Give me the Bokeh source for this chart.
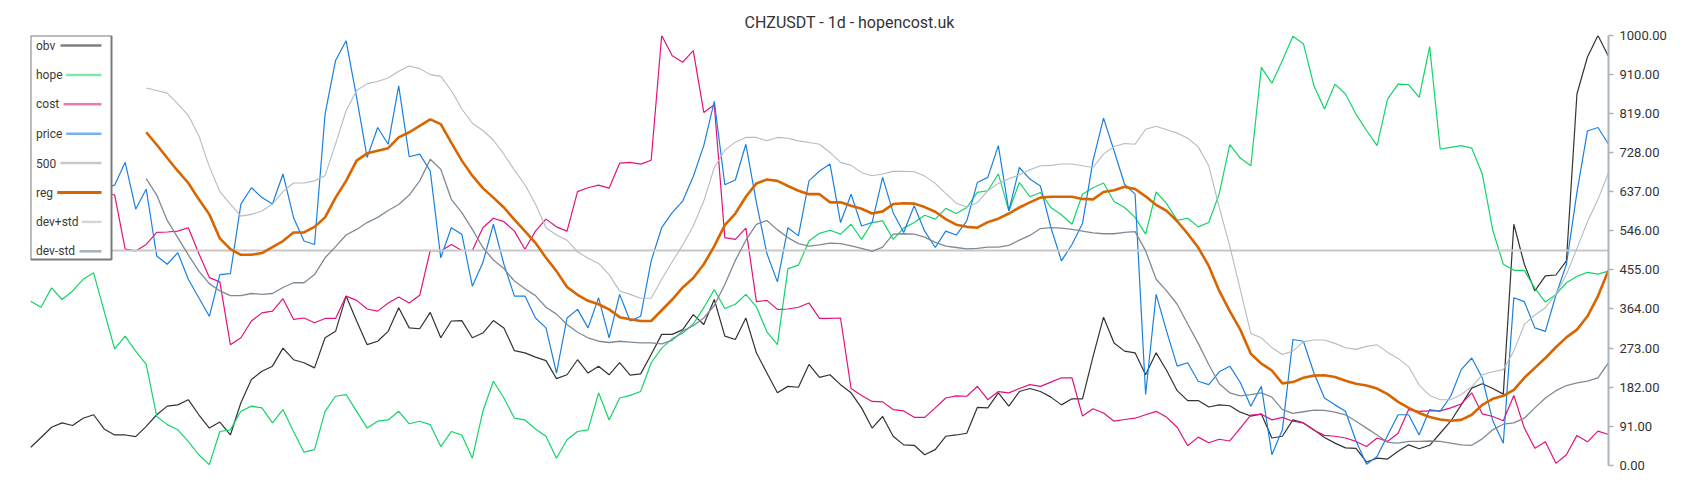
from bokeh.plotting import figure
from bokeh.models import (LinearAxis, FixedTicker, PrintfTickFormatter, Range1d,
                          BoxAnnotation, ColumnDataSource)
from bokeh.core.properties import value
from bokeh.embed import file_html
from bokeh.resources import INLINE

nan = float("nan")

# ---------------- data ----------------
title_text = "CHZUSDT - 1d - hopencost.uk"
ytick_vals = [0, 91, 182, 273, 364, 455, 546, 637, 728, 819, 910, 1000]
level_500 = 500

obv = [42, 65, 89, 99, 93, 110, 118, 85, 71, 71, 67, 91, 118, 138, 141, 153, 118, 87, 101, 71, 146, 200, 219, 231, 273, 246,
       239, 227, 297, 312, 394, 336, 281, 289, 312, 367, 320, 318, 356, 297, 336, 337, 297, 308, 337, 320, 267, 262, 252, 244, 202,
       211, 246, 215, 231, 211, 239, 210, 213, 258, 305, 305, 316, 351, 328, 386, 301, 293, 343, 262, 215, 169, 184, 182, 235, 205,
       211, 188, 169, 134, 87, 114, 68, 48, 47, 25, 37, 68, 71, 75, 135, 134, 169, 138, 172, 179, 172, 159, 141, 155, 155,
       253, 345, 285, 266, 262, 211, 262, 221, 174, 151, 151, 136, 141, 139, 124, 115, 120, 64, 68, 106, 99, 83, 65, 52, 41,
       40, 8, 17, 15, 33, 48, 39, 47, 75, 103, 141, 180, 190, 179, 166, 561, 468, 406, 441, 443, 476, 864, 950, 1000, 951]

hope = [382, 368, 413, 386, 406, 433, 448, 359, 271, 301, 266, 235, 114, 95, 83, 56, 25, 2, 79, 83, 126, 138, 134, 99, 130, 79,
        31, 37, 126, 161, 165, 126, 87, 103, 106, 126, 97, 103, 95, 44, 79, 71, 17, 126, 196, 157, 110, 106, 85, 68, 17,
        60, 79, 83, 169, 106, 157, 163, 172, 239, 273, 295, 308, 329, 367, 409, 365, 375, 398, 369, 311, 281, 458, 466, 522, 540,
        547, 538, 561, 526, 565, 569, 526, 552, 565, 582, 573, 598, 586, 600, 635, 639, 678, 592, 658, 625, 635, 600, 583, 561, 631,
        646, 657, 614, 600, 577, 538, 636, 609, 570, 575, 555, 565, 632, 746, 715, 697, 926, 889, 942, 998, 981, 883, 829, 887, 864,
        817, 779, 744, 852, 887, 886, 856, 974, 736, 740, 744, 738, 678, 547, 468, 454, 454, 412, 380, 398, 425, 440, 449, 445, 452]

cost = [600, 610, 620, 630, 625, 630, 640, 635, 629, 503, 499, 514, 542, 543, 545, 553, 493, 437, 427, 281, 297, 336, 355, 359, 388, 340,
        343, 332, 342, 342, 394, 384, 364, 359, 378, 392, 378, 396, 500, 499, 514, 500, 500, 553, 575, 567, 545, 503, 545, 573, 555,
        545, 637, 646, 652, 645, 703, 705, 701, 710, 1000, 953, 938, 965, 821, 839, 530, 526, 552, 381, 384, 363, 364, 368, 378, 342,
        342, 343, 179, 163, 149, 148, 130, 127, 112, 112, 134, 157, 162, 161, 184, 153, 172, 169, 179, 188, 184, 194, 204, 204, 115,
        132, 122, 103, 107, 110, 118, 126, 112, 89, 46, 66, 53, 61, 57, 87, 117, 119, 106, 112, 103, 99, 82, 70, 68, 64,
        56, 44, 64, 56, 75, 130, 126, 127, 127, 134, 143, 169, 120, 114, 104, 163, 87, 40, 55, 5, 25, 70, 55, 80, 72]

price = [730, 700, 690, 650, 660, 640, 655, 645, 652, 705, 596, 643, 487, 468, 495, 433, 390, 347, 444, 446, 608, 646, 623, 608, 678, 577,
         522, 514, 817, 942, 988, 856, 716, 786, 747, 883, 718, 724, 685, 483, 553, 538, 417, 472, 561, 468, 394, 394, 343, 320, 215,
         343, 363, 320, 390, 297, 398, 336, 347, 476, 553, 588, 615, 672, 744, 847, 653, 664, 747, 612, 493, 427, 553, 534, 662, 685,
         701, 565, 631, 557, 565, 670, 588, 542, 604, 545, 507, 545, 536, 569, 658, 670, 744, 592, 693, 666, 650, 553, 476, 514, 563,
         709, 808, 732, 654, 631, 165, 398, 312, 231, 239, 196, 188, 218, 231, 193, 138, 184, 25, 83, 293, 289, 215, 157, 141, 126,
         57, 3, 21, 70, 118, 118, 71, 130, 126, 161, 223, 250, 204, 104, 52, 390, 381, 320, 312, 396, 468, 635, 778, 786, 747]

reg = [nan] * 11 + [775, 746, 715, 685, 657, 619, 584, 528, 503, 490, 490, 494, 508, 522, 542,
       542, 555, 577, 623, 662, 709, 726, 732, 738, 763, 775, 790, 805, 794, 751, 709, 674, 645, 623, 600, 572, 545, 518, 483, 452,
       415, 397, 383, 375, 363, 345, 340, 336, 336, 361, 386, 414, 436, 468, 510, 559, 586, 625, 656, 665, 662, 650, 639, 631, 631,
       612, 612, 604, 597, 586, 591, 608, 610, 609, 601, 590, 573, 560, 555, 553, 566, 574, 586, 600, 612, 623, 625, 625, 625, 620,
       619, 636, 640, 648, 643, 626, 606, 592, 568, 539, 507, 464, 406, 359, 316, 260, 237, 221, 191, 194, 204, 209, 210, 206, 197,
       190, 186, 179, 166, 148, 134, 122, 113, 107, 104, 106, 118, 141, 155, 162, 176, 204, 227, 250, 275, 298, 316, 347, 394, 454]

dev_plus = [nan] * 11 + [878, 872, 866, 841, 814, 767, 695, 637, 608, 580, 584, 592, 608, 637, 657,
            657, 662, 674, 748, 825, 872, 888, 893, 901, 917, 929, 923, 909, 905, 872, 829, 796, 779, 757, 724, 687, 653, 608, 553, 536,
            524, 497, 482, 470, 444, 406, 398, 389, 389, 433, 474, 513, 557, 615, 693, 733, 752, 763, 763, 755, 763, 761, 755, 751, 747,
            728, 705, 698, 681, 674, 678, 684, 684, 683, 673, 656, 633, 610, 601, 611, 639, 656, 667, 676, 688, 697, 698, 701, 701, 697,
            693, 724, 742, 749, 747, 782, 789, 781, 773, 761, 741, 697, 600, 510, 409, 307, 297, 274, 258, 266, 288, 292, 292, 284, 274,
            270, 277, 281, 263, 249, 230, 187, 163, 153, 153, 165, 183, 211, 218, 223, 266, 328, 350, 367, 398, 444, 505, 567, 619, 681]

dev_minus = [nan] * 11 + [667, 629, 570, 530, 490, 452, 423, 406, 395, 395, 400, 398, 400, 414, 425,
             425, 444, 483, 509, 536, 549, 565, 577, 593, 607, 629, 662, 712, 689, 619, 588, 549, 507, 478, 458, 429, 411, 395, 368, 352,
             328, 310, 297, 289, 286, 289, 287, 285, 285, 283, 291, 313, 325, 343, 372, 421, 477, 524, 561, 570, 548, 530, 516, 510, 513,
             517, 516, 511, 505, 498, 508, 538, 539, 538, 531, 519, 510, 507, 504, 505, 508, 508, 512, 524, 535, 551, 553, 552, 549, 545,
             541, 539, 539, 542, 544, 499, 433, 406, 375, 329, 284, 235, 190, 169, 162, 165, 169, 159, 130, 121, 125, 129, 128, 124, 118,
             103, 87, 71, 54, 52, 56, 56, 57, 56, 52, 48, 47, 62, 83, 96, 99, 110, 134, 157, 174, 186, 192, 196, 204, 239]

N = len(obv)
xs = list(range(N))
line_500 = [level_500] * N

legend_names = ["obv", "hope", "cost", "price", "500", "reg", "dev+std", "dev-std"]

# ---------------- styles ----------------
series = [
    (obv, "#333333", 1.2),
    (hope, "#14d468", 1.2),
    (cost, "#e2127c", 1.2),
    (price, "#1a80e0", 1.2),
    (line_500, "#c8c8c8", 2.0),
    (reg, "#d96500", 2.6),
    (dev_plus, "#b3bcc4", 1.1),
    (dev_minus, "#7e8b97", 1.3),
]
swatch_colors = ["#808080", "#80e6aa", "#ec78b6", "#78b2ec", "#c8c8c8", "#d96500", "#d2d7dc", "#a6b0ba"]
swatch_start_px = [60, 65.7, 63, 65.7, 60, 56.7, 81, 79]

W, H = 1700, 500
FRAME_L, FRAME_R, FRAME_T, FRAME_B = 30, 1608, 35, 465  # canvas px
X0, X1 = 0, N - 1
Y0, Y1 = 0, 1000


def dx(px):
    return X0 + (px - FRAME_L) / (FRAME_R - FRAME_L) * (X1 - X0)


def dy(py):
    return Y1 - (py - FRAME_T) / (FRAME_B - FRAME_T) * (Y1 - Y0)


p = figure(width=W, height=H, output_backend="svg", toolbar_location=None,
           x_axis_type=None, y_axis_type=None,
           x_range=Range1d(X0, X1), y_range=Range1d(Y0, Y1),
           min_border_left=FRAME_L, min_border_right=W - FRAME_R,
           min_border_top=FRAME_T, min_border_bottom=H - FRAME_B)
p.outline_line_color = None
p.background_fill_color = "white"
p.border_fill_color = "white"

# title: left aligned with an offset so that it sits centred on the canvas
p.title.text = title_text
p.title.align = "left"
p.title.offset = 714
p.title.text_font = "Roboto"
p.title.text_font_size = "16px"
p.title.text_font_style = "normal"
p.title.text_color = "#333333"
p.title.standoff = 8

ax = LinearAxis(ticker=FixedTicker(ticks=ytick_vals),
                formatter=PrintfTickFormatter(format="%.2f"))
ax.axis_line_color = "#aab4bd"
ax.axis_line_width = 2
ax.major_tick_line_color = "#aab4bd"
ax.major_tick_line_width = 1.5
ax.major_tick_in = 0
ax.major_tick_out = 5
ax.minor_tick_line_color = None
ax.major_label_text_font = "Roboto"
ax.major_label_text_font_size = "13px"
ax.major_label_text_color = "#333333"
ax.major_label_standoff = 6
p.add_layout(ax, "right")

for vals, col, lw in series:
    p.line(xs, vals, line_color=col, line_width=lw)

# legend (label on the left, line swatch on the right)
leg_right_px, leg_bottom_px = 111, 259
p.add_layout(BoxAnnotation(left=dx(FRAME_L), right=dx(leg_right_px), top=Y1, bottom=dy(leg_bottom_px),
                           fill_color="white", fill_alpha=1.0,
                           line_color="#7a7a7a", line_width=2, line_alpha=1.0))
row_y_px = [45 + 29.4 * k for k in range(len(legend_names))]
src_txt = ColumnDataSource(dict(x=[dx(35.5)] * len(legend_names), y=[dy(v) for v in row_y_px], t=legend_names))
p.text(x="x", y="y", text="t", source=src_txt, text_font=value("Roboto"), text_font_size="12px",
       text_color="#3a3a3a", text_baseline="middle", text_align="left", level="overlay")
src_sw = ColumnDataSource(dict(x0=[dx(s) for s in swatch_start_px], x1=[dx(101)] * len(legend_names),
                               y=[dy(v) for v in row_y_px], c=swatch_colors,
                               w=[2.5, 2.5, 2.5, 2.5, 2.5, 3, 2.5, 2.5]))
p.segment(x0="x0", y0="y", x1="x1", y1="y", line_color="c", line_width="w", source=src_sw, level="overlay")

open("out.html", "w").write(file_html(p, INLINE))
